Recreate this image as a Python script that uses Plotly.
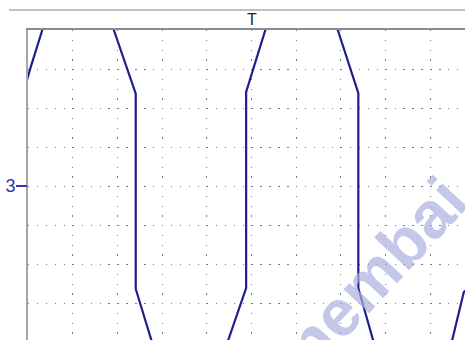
import plotly.graph_objects as go

t_div = [-0.10, -0.10, 0.04, 0.32, 1.15, 1.92, 2.41, 2.41, 2.76, 3.64, 4.48, 4.88, 4.88,
         5.31, 6.12, 6.93, 7.39, 7.39, 7.72, 8.60, 9.49, 9.75, 9.86, 9.86]
v_div = [-2.64, 2.41, 2.97, 4.00, 6.05, 4.00, 2.37, -2.64, -3.95, -6.00, -3.95, -2.62, 2.41,
         4.00, 6.05, 4.00, 2.38, -2.62, -3.95, -6.00, -3.95, -2.72, -2.62, 2.41]

channel_label = ["3"]
channel_level = [0]
trigger_label = "T"
trigger_pos = 5
watermark = "nembai"

W, H = 465, 340
L, T = 28, 30
DIV_X, DIV_Y = 44.7, 39.0

fig = go.Figure()
fig.add_trace(go.Scatter(x=t_div, y=v_div, mode="lines",
                         line=dict(color="#1e1e8c", width=2.2), showlegend=False))
fig.add_trace(go.Scatter(x=[None], y=[None], yaxis="y2", showlegend=False))

x_range = [0, (W - L) / DIV_X]
y_range = [4 - (H - T) / DIV_Y, 4]

fig.update_layout(
    template="none",
    width=W, height=H,
    margin=dict(l=L, r=0, t=T, b=0, pad=0, autoexpand=False),
    paper_bgcolor="white", plot_bgcolor="white",
    xaxis=dict(range=x_range, dtick=1, tick0=0, showgrid=True, gridcolor="#7a7a7a",
               gridwidth=1.3, griddash="1.3px,8.45px", zeroline=False, showticklabels=False,
               ticks="", side="top", showline=True, linecolor="#8c8c8c", linewidth=2,
               automargin=False),
    yaxis=dict(range=y_range, dtick=1, tick0=0, showgrid=True, gridcolor="#7a7a7a",
               gridwidth=1.3, griddash="1.3px,7.64px", zeroline=False, showticklabels=False,
               ticks="", showline=True, linecolor="#a6a6a6", linewidth=2, automargin=False),
    yaxis2=dict(range=y_range, overlaying="y", side="left", anchor="x",
                tickvals=channel_level, ticktext=channel_label, ticks="outside",
                ticklen=11, tickwidth=2, tickcolor="#3434b0", showgrid=False,
                zeroline=False, showline=False, automargin=False, ticklabelstandoff=-3,
                tickfont=dict(family="Liberation Sans", size=18, color="#3434b0")),
    shapes=[dict(type="line", xref="paper", yref="paper",
                 x0=(9 - L) / (W - L), x1=1, y0=1 + (T - 10) / (H - T), y1=1 + (T - 10) / (H - T),
                 line=dict(color="#bfbfbf", width=2))],
    annotations=[
        dict(x=trigger_pos, xref="x", y=1 + (T - 19.5) / (H - T), yref="paper",
             text=trigger_label, showarrow=False, xanchor="center", yanchor="middle",
             font=dict(family="Liberation Sans", size=16, color="#222222")),
        dict(x=(375 - L) / (W - L), xref="paper", y=(H - 273) / (H - T), yref="paper",
             text="<b>" + watermark + "</b>", showarrow=False, textangle=-47,
             xanchor="center", yanchor="middle",
             font=dict(family="Liberation Sans", size=66, color="rgba(170,175,222,0.7)")),
    ],
)

fig.write_html("out.html", config={"displayModeBar": False},
               post_script="document.body.style.margin='0';document.body.style.overflow='hidden';")
